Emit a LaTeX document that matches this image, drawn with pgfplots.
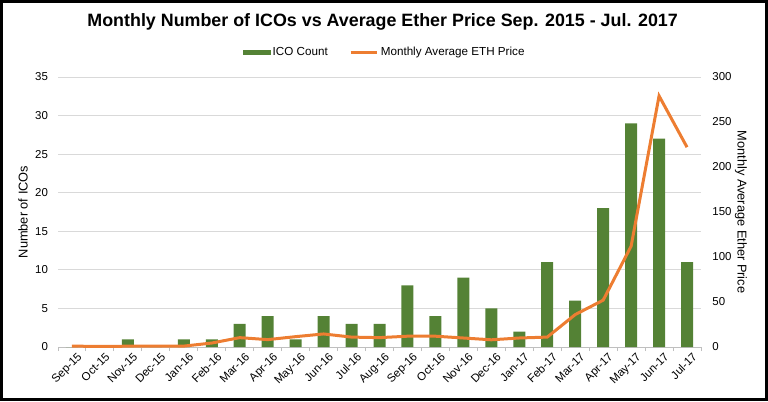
\documentclass[border=0pt]{standalone}
\usepackage{pgfplots}
\pgfplotsset{compat=1.18}
\usepackage{fontspec}
\setmainfont{Liberation Sans}
\definecolor{icogreen}{HTML}{548235}
\definecolor{ethorange}{HTML}{ED7D31}
\definecolor{gridgray}{HTML}{D9D9D9}
\definecolor{axgray}{HTML}{BFBFBF}

\begin{document}
\begin{tikzpicture}
\useasboundingbox (0pt,0pt) rectangle (576pt,300.75pt);
\draw[line width=2.25pt] (1.125pt,1.125pt) rectangle (574.875pt,299.625pt);
\node[anchor=base] at (287pt,280.5pt) {\fontsize{13.4}{15}\selectfont\bfseries Monthly Number of ICOs vs Average Ether Price Sep. 2015 - Jul. 2017};

\pgfplotsset{
  common/.style={
    at={(43.5pt,40.5pt)}, anchor=south west, scale only axis,
    width=482.25pt, height=202.5pt,
    xmin=-0.5, xmax=22.5,
    /pgf/number format/assume math mode=true,
    tick label style={font=\fontsize{8.6}{10}\selectfont},
    label style={font=\fontsize{9.6}{11}\selectfont},
  }
}

\begin{axis}[common,
  ymin=0, ymax=35, ytick={0,5,...,35},
  ymajorgrids, grid style={gridgray, line width=0.75pt},
  axis x line*=bottom, axis y line*=left,
  y axis line style={draw=none},
  x axis line style={axgray, line width=0.75pt},
  xtick={0,...,22},
  xticklabels={Sep-15,Oct-15,Nov-15,Dec-15,Jan-16,Feb-16,Mar-16,Apr-16,May-16,Jun-16,Jul-16,Aug-16,Sep-16,Oct-16,Nov-16,Dec-16,Jan-17,Feb-17,Mar-17,Apr-17,May-17,Jun-17,Jul-17},
  major tick length=0pt,
  minor xtick={-0.5,0.5,...,22.5},
  minor tick length=3pt,
  tick align=outside,
  minor tick style={axgray, line width=0.75pt},
  ytick style={draw=none},
  x tick label style={rotate=45, anchor=north east, inner sep=1pt, xshift=1pt, yshift=-4pt},
  y tick label style={anchor=east, xshift=-4pt},
  ylabel={Number of ICOs},
  ylabel style={at={(axis description cs:-0.0545,0.5)}, anchor=center},
]
\addplot[ybar, bar width=9pt, fill=icogreen, draw=none] coordinates {
(0,0) (1,0) (2,1) (3,0) (4,1) (5,1) (6,3) (7,4) (8,1) (9,4) (10,3) (11,3)
(12,8) (13,4) (14,9) (15,5) (16,2) (17,11) (18,6) (19,18) (20,29) (21,27) (22,11)
};
\end{axis}

\begin{axis}[common,
  ymin=0, ymax=300, ytick={0,50,...,300},
  axis x line=none, axis y line*=right,
  y axis line style={draw=none},
  ytick style={draw=none},
  y tick label style={anchor=west, xshift=5pt},
  ylabel={Monthly Average Ether Price},
  ylabel style={at={(axis description cs:1.062,0.5)}, anchor=center, rotate=180},
  legend style={at={(axis description cs:0.5086,1.0926)}, anchor=center,
    legend columns=2, draw=none, fill=none,
    font=\fontsize{8.75}{10}\selectfont,
    /tikz/every even column/.append style={column sep=14pt},
    inner sep=0pt},
]
\addlegendimage{legend image code/.code={\fill[icogreen] (0pt,-1.5pt) rectangle (20pt,1.5pt);}}
\addlegendentry{ICO Count}
\addplot[ethorange, line width=2.25pt, no markers,
  legend image code/.code={\draw[ethorange, line width=2.25pt] (0pt,0pt) -- (19.5pt,0pt);}] coordinates {
(0,1.0) (1,0.6) (2,0.9) (3,0.9) (4,1.0) (5,4.4) (6,10.4) (7,8.2) (8,11.5) (9,14.5) (10,11) (11,10.4)
(12,12) (13,12) (14,10) (15,8) (16,10) (17,11) (18,36) (19,52) (20,112) (21,279) (22,222)
};
\addlegendentry{Monthly Average ETH Price}
\end{axis}
\end{tikzpicture}
\end{document}
